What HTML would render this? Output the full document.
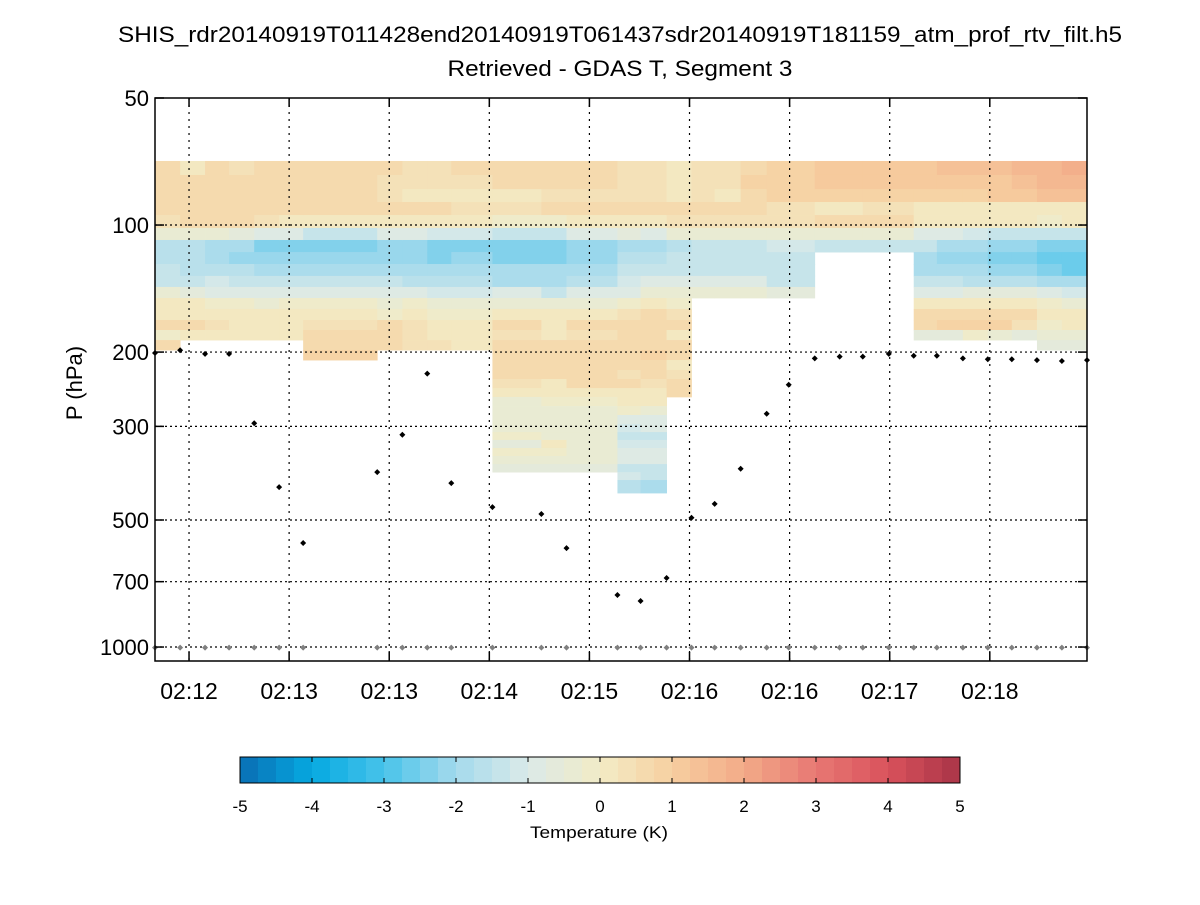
<!DOCTYPE html>
<html><head><meta charset="utf-8"><style>
body{margin:0;background:#fff;}
svg text{font-family:"Liberation Sans",sans-serif;}
</style></head><body>
<svg id="chart" width="1200" height="900" xmlns="http://www.w3.org/2000/svg">
<rect width="1200" height="900" fill="#fff"/>
<text x="620" y="42" font-size="22" text-anchor="middle" textLength="1004" lengthAdjust="spacingAndGlyphs">SHIS_rdr20140919T011428end20140919T061437sdr20140919T181159_atm_prof_rtv_filt.h5</text>
<text x="620" y="76" font-size="22" text-anchor="middle" textLength="345" lengthAdjust="spacingAndGlyphs">Retrieved - GDAS T, Segment 3</text>
<text transform="translate(82,383) rotate(-90)" font-size="22" text-anchor="middle">P (hPa)</text>
<g id="heat"></g>
<g id="grid"></g>
<g id="dots"></g>
<g id="axes"></g>
<g id="cbar"></g>
<text x="599" y="838" font-size="17" text-anchor="middle" textLength="138" lengthAdjust="spacingAndGlyphs">Temperature (K)</text>
</svg>
<script>
// ---- data ----
const times = [724.7,736,747.2,758,769.3,780.5,791.3,824.6,835.9,847.1,857.9,876.4,898.4,909.7,932.6,943,954.7,965.9,976.3,988,999.7,1009.6,1021.3,1032.5,1042.9,1054.6,1065.8,1076.2,1087.9,1099.1,1109.9,1121.2,1132.4,1143.7];
const pEdges = [70.5,76.1,82.2,88.2,94.7,101.6,108.5,115.9,123.7,132,140.2,148.9,158.1,167.9,177.3,187.3,197.8,208.9,220.5,231.7,243.4,255.5,268.5,282,296,309.5,323,337.5,352.5,368.5,385,402,431.5];
const profiles = [
[0.6,0.6,0.5,0.6,0.4,-0.3,-1.6,-1.6,-1.5,-1.3,-0.5,0.1,0.2,0.6,-0.2,0.7],
[0.2,0.5,0.5,0.5,0.5,-0.3,-1.6,-1.6,-1.7,-1.3,-0.6,0,0.2,0.6,0.0],
[0.6,0.5,0.5,0.5,0.5,-0.4,-1.8,-2.0,-1.7,-1.2,-1.0,-0.2,0.2,0.4,0.0],
[0.4,0.5,0.5,0.5,0.5,-0.6,-2.0,-2.1,-1.7,-1.4,-1.0,-0.2,0.2,0.2,0.1],
[0.6,0.5,0.5,0.5,0.4,-0.8,-2.3,-2.2,-2.0,-1.4,-1.0,-0.3,0.2,0.2,0.1],
[0.6,0.5,0.5,0.5,0.2,-1.0,-2.5,-2.2,-2.0,-1.4,-0.8,-0.2,0.2,0.2,0.1],
[0.6,0.5,0.5,0.5,0.2,-1.3,-2.5,-2.2,-2.0,-1.4,-0.8,-0.2,0.2,0.4,0.5,0.6,0.9],
[0.6,0.3,0.3,0.5,0.2,-0.8,-2.1,-2.1,-2.0,-1.5,-1.0,-0.3,-0.2,0.6,0.5,0.5],
[0.4,0.4,0.2,0.5,0.1,-0.8,-2.2,-2.2,-1.8,-1.6,-1.0,-0.2,0.2,0.3,0.3,0.4],
[0.4,0.4,0.2,0.5,0.2,-1.1,-2.4,-2.4,-2.0,-1.6,-1.2,-0.5,-0.2,0.2,0.2,0.3],
[0.5,0.3,0.2,0.4,0.2,-1.2,-2.4,-2.2,-2.0,-1.7,-1.1,-0.5,-0.2,0.2,0.2,0.2],
[0.6,0.6,0.2,0.3,-0.2,-1.4,-2.5,-2.5,-2.0,-1.8,-1.0,-0.4,0.0,0.5,0.4,0.6,0.6,0.6,0.5,0.3,0.1,-0.3,-0.4,-0.4,-0.4,-0.2,-0.6,-0.2,-0.5,-0.6],
[0.6,0.5,0.4,0.6,-0.2,-1.3,-2.5,-2.5,-2.0,-1.8,-1.3,-0.5,0,0.2,0.1,0.5,0.7,0.6,0.5,0.2,0.1,-0.2,-0.4,-0.3,-0.5,-0.3,0.0,-0.2,-0.4,-0.6],
[0.6,0.5,0.4,0.6,0.2,-0.8,-2.2,-2.2,-1.8,-1.6,-0.8,-0.3,0.2,0.5,0.3,0.6,0.6,0.6,0.6,0.6,0.2,-0.2,-0.5,-0.5,-0.5,-0.5,-0.4,-0.4,-0.5,-0.6],
[0.3,0.3,0.3,0.6,0.2,-0.7,-1.9,-1.6,-1.5,-1.2,-0.8,-0.2,0.3,0.5,0.5,0.6,0.7,0.5,0.4,0.5,0.2,0.1,-0.2,-1.0,-1.1,-1.3,-1.1,-1.0,-1.0,-1.3,-1.2,-1.6],
[0.3,0.3,0.3,0.6,0.2,-0.8,-1.8,-1.6,-1.5,-0.8,-0.3,0.0,0.5,0.5,0.6,0.5,0.8,0.5,0.6,0.4,0.2,0.2,-0.3,-0.9,-1.0,-1.4,-1.1,-1.0,-1.0,-1.4,-1.4,-1.8],
[0.2,0.2,0.2,0.6,0.4,-0.5,-1.6,-1.5,-1.4,-1.0,-0.5,-0.2,0.3,0.5,0.2,0.6,0.6,0.2,0.4,0.5,0.5],
[0.3,0.3,0.3,0.5,0.4,-0.3,-1.5,-1.5,-1.4,-0.8,-0.4],
[0.3,0.3,0.2,0.5,0.4,-0.3,-1.5,-1.5,-1.4,-0.8,-0.4],
[0.5,0.8,0.6,0.6,0.4,-0.3,-1.5,-1.4,-1.4,-0.8,-0.4],
[0.8,0.8,0.9,0.4,0.3,-0.3,-1.2,-1.4,-1.4,-1.3,-0.6],
[0.9,0.8,0.9,0.3,0.4,-0.3,-1.2,-1.4,-1.4,-1.3,-0.6],
[1.0,1.0,0.9,0.2,0.5,-0.5,-1.3],
[1.0,1.1,0.9,0.2,0.5,-0.5,-1.3],
[1.2,1.1,0.9,0.3,0.5,-0.5,-1.3],
[1.2,1.1,0.9,0.3,0.5,-0.5,-1.4],
[1.2,1.0,0.9,0.2,0.2,-0.8,-1.5,-2.0,-1.9,-1.4,-0.8,0.1,0.5,0.7,-0.6],
[1.4,1.0,0.9,0.2,0.2,-1.0,-1.8,-2.1,-1.9,-1.4,-0.8,0.1,0.5,0.8,-0.6],
[1.4,1.2,0.9,0.2,0.2,-1.1,-1.8,-2.2,-1.9,-1.6,-0.6,0.2,0.7,0.8,-0.2],
[1.4,1.2,1.0,0.2,0.0,-1.5,-2.2,-2.3,-2.1,-1.6,-0.7,0.2,0.6,0.8,-0.4],
[1.6,1.4,1.2,0.2,0.2,-1.5,-2.2,-2.4,-2.2,-1.6,-0.7,0.1,0.6,0.3,-0.7],
[1.6,1.5,1.4,0.2,-0.2,-1.5,-2.3,-2.6,-2.4,-1.8,-1.0,-0.2,0.2,-0.2,-0.4,-0.6],
[1.8,1.5,1.4,0.2,0.0,-1.5,-2.3,-2.6,-2.6,-1.9,-1.1,-0.5,0.2,0.2,-0.3,-0.6]
];
const cloudTop = [201,198,202,202,295,418,567,385,314,225,409,466,484,583,753,778,686,494,458,378,280,239,207,205,205,202,204,204,207,208,208,209,210,209];
const surfaceP = 1003;
const yTicks = [50,100,200,300,500,700,1000];
const xTickTimes = [740,785,830,875,920,965,1010,1055,1100];
const xTickLabels = ["02:12","02:13","02:13","02:14","02:15","02:16","02:16","02:17","02:18"];
const cbTicks = [-5,-4,-3,-2,-1,0,1,2,3,4,5];

// ---- scales ----
const X0=155,X1=1087,Y0=98,PPD=422;
const xs=t=>X0+(t-times[0])/(times[times.length-1]-times[0])*(X1-X0);
const ys=p=>Y0+Math.log10(p/50)*PPD;
const stops=[[-5,[10,109,179]],[-4,[5,169,225]],[-3,[72,195,234]],[-2,[164,218,236]],[-1,[219,234,232]],[0,[242,235,198]],[1,[246,207,160]],[2,[242,170,136]],[3,[232,120,115]],[4,[217,82,92]],[5,[169,52,71]]];
function cmap(v){
  v=Math.max(-5,Math.min(4.999,v));
  v=Math.floor(v*4)/4+0.125;
  let i=Math.min(9,Math.floor(v+5));const a=stops[i],b=stops[i+1];const f=(v-a[0])/(b[0]-a[0]);
  return 'rgb('+a[1].map((c,k)=>Math.round(c+(b[1][k]-c)*f)).join(',')+')';
}
const NS='http://www.w3.org/2000/svg';
function mk(tag,attrs,parent){const e=document.createElementNS(NS,tag);for(const k in attrs)e.setAttribute(k,attrs[k]);parent.appendChild(e);return e;}

// heatmap
const heat=document.getElementById('heat');
profiles.forEach((col,c)=>{
  const xa=xs(times[c]),xb=xs(times[c+1]);
  col.forEach((v,r)=>{
    const ya=ys(pEdges[r]),yb=ys(pEdges[r+1]);
    const el=mk('rect',{x:xa.toFixed(2),y:ya.toFixed(2),width:(xb-xa+0.4).toFixed(2),height:(yb-ya+0.4).toFixed(2),fill:cmap(v)},heat);
    
    
  });
});

// grid
const grid=document.getElementById('grid');
yTicks.forEach(p=>{if(p===50)return;const y=ys(p);
  const l=mk('line',{x1:X0,x2:X1,y1:y,y2:y,stroke:'#000','stroke-width':1.2,'stroke-dasharray':'2,3'},grid);
  
  
});
xTickTimes.forEach(t=>{const x=xs(t);
  const l=mk('line',{x1:x,x2:x,y1:Y0,y2:661,stroke:'#000','stroke-width':1.2,'stroke-dasharray':'2,5'},grid);
  
  
});

// dots
const dots=document.getElementById('dots');
function diamond(x,y,col){return mk('path',{d:`M${x-3},${y}L${x},${y-3}L${x+3},${y}L${x},${y+3}Z`,fill:col},dots);}
times.forEach((t,i)=>{
  const g=diamond(xs(t),ys(surfaceP),'#808080');
  
  
  const d=diamond(xs(t),ys(cloudTop[i]),'#000');
  
  
});

// axes
const axes=document.getElementById('axes');
const box=mk('rect',{x:X0,y:Y0,width:X1-X0,height:661-Y0,fill:'none',stroke:'#000','stroke-width':1.5},axes);


yTicks.forEach(p=>{const y=ys(p);
  mk('line',{x1:X0,x2:X0+9,y1:y,y2:y,stroke:'#000','stroke-width':1.5},axes);
  mk('line',{x1:X1-9,x2:X1,y1:y,y2:y,stroke:'#000','stroke-width':1.5},axes);
  const tx=mk('text',{x:149,y:y+8,'font-size':22,'text-anchor':'end'},axes);tx.textContent=p;
  
  
});
xTickTimes.forEach((t,i)=>{const x=xs(t);
  mk('line',{x1:x,x2:x,y1:661,y2:652,stroke:'#000','stroke-width':1.5},axes);
  mk('line',{x1:x,x2:x,y1:Y0,y2:Y0+9,stroke:'#000','stroke-width':1.5},axes);
  const tx=mk('text',{x:x,y:699,'font-size':23,'text-anchor':'middle'},axes);tx.textContent=xTickLabels[i];
  
  
});

// colorbar
const cb=document.getElementById('cbar');
const CX0=240,CX1=960,CY0=757,CY1=783;
const cx=v=>CX0+(v+5)/10*(CX1-CX0);
for(let k=0;k<40;k++){const v=-5+k*0.25;
  const r=mk('rect',{x:cx(v),y:CY0,width:(CX1-CX0)/40+0.5,height:CY1-CY0,fill:cmap(v+0.01)},cb);
  
  
}
mk('rect',{x:CX0,y:CY0,width:CX1-CX0,height:CY1-CY0,fill:'none',stroke:'#000','stroke-width':1},cb);
cbTicks.forEach(v=>{const x=cx(v);
  mk('line',{x1:x,x2:x,y1:CY0,y2:CY0+5,stroke:'#000'},cb);
  mk('line',{x1:x,x2:x,y1:CY1-5,y2:CY1,stroke:'#000'},cb);
  const tx=mk('text',{x:x,y:812,'font-size':17,'text-anchor':'middle'},cb);tx.textContent=v;
  
  
});
</script>
</body></html>
